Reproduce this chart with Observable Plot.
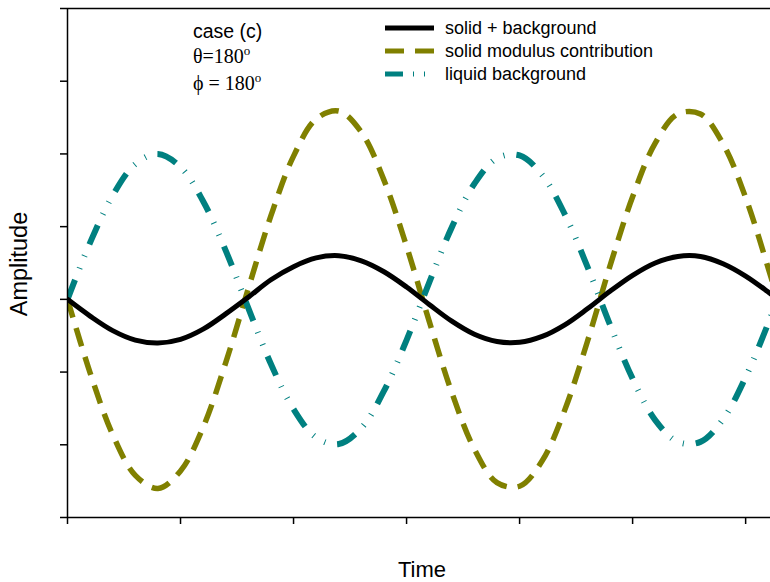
<!DOCTYPE html>
<html>
<head>
<meta charset="utf-8">
<script src="https://cdn.jsdelivr.net/npm/d3@7"></script>
<script src="https://cdn.jsdelivr.net/npm/@observablehq/plot@0.6"></script>
<style>
  html, body { margin: 0; padding: 0; background: #fff; }
  #chart { width: 770px; height: 582px; }
</style>
</head>
<body>
<div id="chart"></div>
<script>
// Time samples (x)
const time = [0.0,0.2,0.4,0.6,0.8,1.0,1.2,1.4,1.6,1.8,2.0,2.2,2.4,2.6,2.8,3.0,
  3.2,3.4,3.6,3.8,4.0,4.2,4.4,4.6,4.8,5.0,5.2,5.4,5.6,5.8,6.0,6.2,6.3];
// liquid background
const liquid = [0,0.78,1.43,1.86,2.0,1.82,1.35,0.67,-0.12,-0.89,-1.51,-1.90,-1.99,-1.77,-1.26,-0.56,
  0.23,0.99,1.59,1.94,1.98,1.71,1.17,0.45,-0.35,-1.09,-1.66,-1.96,-1.96,-1.65,-1.07,-0.33,0.07];
// solid modulus contribution
const solidModulus = [0,-1.01,-1.86,-2.42,-2.6,-2.36,-1.76,-0.87,0.15,1.15,1.97,2.48,2.59,2.30,1.64,0.73,
  -0.30,-1.28,-2.06,-2.52,-2.57,-2.22,-1.52,-0.58,0.46,1.41,2.15,2.55,2.55,2.14,1.40,0.43,-0.09];
// solid + background
const solidBackground = [0,-0.23,-0.43,-0.56,-0.6,-0.55,-0.41,-0.20,0.03,0.27,0.45,0.57,0.60,0.53,0.38,0.17,
  -0.07,-0.30,-0.48,-0.58,-0.59,-0.51,-0.35,-0.13,0.11,0.33,0.50,0.59,0.59,0.49,0.32,0.10,-0.02];

const xTicks = [0,1,2,3,4,5,6];
const yTicks = [-3,-2,-1,0,1,2,3,4];
const seriesNames = ["solid + background", "solid modulus contribution", "liquid background"];
const seriesColors = ["#000000", "#808000", "#008080"];
const seriesDash = [null, "19,11", "21,12,1,12,1,12"];
const seriesWidth = [5, 5.5, 6];

const svg = Plot.plot({
  width: 770,
  height: 582,
  marginLeft: 67,
  marginRight: 0,
  marginTop: 8,
  marginBottom: 65,
  style: {background: "#fff", fontFamily: "Liberation Sans, Arial, sans-serif"},
  x: {domain: [0, 6.22], label: null},
  y: {domain: [-3, 4], label: null},
  marks: [
    Plot.line(time, {x: time, y: solidModulus, stroke: seriesColors[1], strokeWidth: seriesWidth[1],
      strokeDasharray: seriesDash[1], strokeLinecap: "butt", curve: "catmull-rom", clip: true}),
    Plot.line(time, {x: time, y: liquid, stroke: seriesColors[2], strokeWidth: seriesWidth[2],
      strokeDasharray: seriesDash[2], strokeLinecap: "butt", curve: "catmull-rom", clip: true}),
    Plot.line(time, {x: time, y: solidBackground, stroke: seriesColors[0], strokeWidth: seriesWidth[0],
      curve: "catmull-rom", clip: true}),
    Plot.ruleX([0], {stroke: "#000", strokeWidth: 1.5}),
    Plot.ruleY([-3], {stroke: "#000", strokeWidth: 1.5}),
    Plot.ruleY([4], {stroke: "#000", strokeWidth: 1.5}),
    Plot.axisX({ticks: xTicks, tickFormat: () => "", tickSize: 7, strokeWidth: 1.5, stroke: "#000", label: null}),
    Plot.axisY({ticks: yTicks, tickFormat: () => "", tickSize: 7, strokeWidth: 1.5, stroke: "#000", label: null})
  ]
});

const s = d3.select(svg);
const sans = "Liberation Sans, Arial, sans-serif";
const serif = "Liberation Serif, Times New Roman, serif";
// axis titles
s.append("text").attr("x", 422).attr("y", 577).attr("text-anchor", "middle")
  .attr("font-family", sans).attr("font-size", 22).attr("fill", "#000")
  .text("Time");
s.append("text").attr("transform", "translate(27,264) rotate(-90)").attr("text-anchor", "middle")
  .attr("font-family", sans).attr("font-size", 23.5).attr("fill", "#000")
  .text("Amplitude");

// annotation
s.append("text").attr("x", 193).attr("y", 38).attr("text-anchor", "start")
  .attr("font-family", sans).attr("font-size", 19.5).attr("fill", "#000")
  .text("case (c)");
const t1 = s.append("text").attr("x", 193).attr("y", 63).attr("text-anchor", "start")
  .attr("font-family", serif).attr("font-size", 20).attr("fill", "#000");
t1.append("tspan").text("θ=180");
t1.append("tspan").attr("dy", -8).attr("font-size", 13).text("o");
const t2 = s.append("text").attr("x", 193).attr("y", 90).attr("text-anchor", "start")
  .attr("font-family", serif).attr("font-size", 20).attr("fill", "#000");
t2.append("tspan").text("ϕ = 180");
t2.append("tspan").attr("dy", -8).attr("font-size", 13).text("o");

// legend
const legendY = [28, 51, 74];
seriesNames.forEach((name, i) => {
  s.append("line").attr("x1", 385).attr("x2", 434).attr("y1", legendY[i]).attr("y2", legendY[i])
    .attr("stroke", seriesColors[i]).attr("stroke-width", 5)
    .attr("stroke-dasharray", i === 1 ? "19,11" : (i === 2 ? "18,10,1,10,1,10" : null));
  s.append("text").attr("x", 445).attr("y", legendY[i] + 6).attr("text-anchor", "start")
    .attr("font-family", sans).attr("font-size", 18).attr("fill", "#000")
    .text(name);
});

document.getElementById("chart").appendChild(svg);
</script>
</body>
</html>
